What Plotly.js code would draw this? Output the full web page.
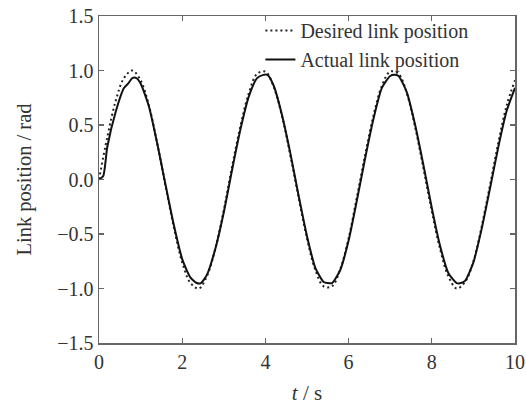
<!DOCTYPE html>
<html>
<head>
<meta charset="utf-8">
<script src="https://cdn.plot.ly/plotly-3.0.1.min.js"></script>
<style>html,body{margin:0;padding:0;background:#fff;}</style>
</head>
<body>
<div id="chart" style="width:526px;height:410px;"></div>
<script>
// Desired link position
var desiredT = [0,0.2,0.4,0.6,0.8,1.0,1.2,1.4,1.6,1.8,2.0,2.2,2.4,2.6,2.8,3.0,3.2,3.4,3.6,3.8,4.0,4.2,4.4,4.6,4.8,5.0,5.2,5.4,5.6,5.8,6.0,6.2,6.4,6.6,6.8,7.0,7.2,7.4,7.6,7.8,8.0,8.2,8.4,8.6,8.8,9.0,9.2,9.4,9.6,9.8,10.0];
var desiredY = [0,0.39,0.72,0.93,1.0,0.91,0.68,0.33,-0.06,-0.44,-0.76,-0.95,-1.0,-0.88,-0.63,-0.28,0.12,0.49,0.79,0.97,0.99,0.85,0.58,0.22,-0.17,-0.54,-0.83,-0.98,-0.98,-0.82,-0.54,-0.16,0.23,0.59,0.86,0.99,0.97,0.79,0.48,0.10,-0.29,-0.64,-0.89,-1.0,-0.94,-0.75,-0.43,-0.05,0.34,0.68,0.91];
// Actual link position
var actualT = [0,0.1,0.2,0.4,0.6,0.7,0.8,0.9,1.0,1.2,1.4,1.6,1.8,2.0,2.2,2.35,2.45,2.6,2.8,3.0,3.2,3.4,3.6,3.8,3.95,4.05,4.2,4.4,4.6,4.8,5.0,5.2,5.4,5.5,5.6,5.8,6.0,6.2,6.4,6.6,6.8,7.0,7.1,7.2,7.4,7.6,7.8,8.0,8.2,8.4,8.6,8.7,8.8,9.0,9.2,9.4,9.6,9.8,10.0];
var actualY = [0,0.03,0.3,0.62,0.84,0.88,0.93,0.93,0.88,0.67,0.33,-0.05,-0.42,-0.73,-0.9,-0.95,-0.95,-0.87,-0.63,-0.3,0.09,0.46,0.76,0.93,0.96,0.96,0.86,0.59,0.24,-0.15,-0.52,-0.81,-0.94,-0.95,-0.95,-0.83,-0.56,-0.19,0.2,0.56,0.84,0.95,0.96,0.95,0.8,0.5,0.13,-0.26,-0.61,-0.86,-0.95,-0.95,-0.93,-0.76,-0.45,-0.08,0.3,0.63,0.84];
var xTicks = [0,2,4,6,8,10];
var yTicks = [-1.5,-1.0,-0.5,0.0,0.5,1.0,1.5];
var yTickText = ['\u22121.5','\u22121.0','\u22120.5','0.0','0.5','1.0','1.5'];

var serif = '"Liberation Serif", "Times New Roman", serif';
var traces = [
  {x: desiredT, y: desiredY, name: 'Desired link position', mode: 'lines',
   line: {color: '#222', width: 2, dash: '2px,3px', shape: 'spline', smoothing: 1}},
  {x: actualT, y: actualY, name: 'Actual link position', mode: 'lines',
   line: {color: '#111', width: 2, shape: 'spline', smoothing: 0.6}}
];
var axisCommon = {
  showline: true, mirror: 'ticks', ticks: 'inside', ticklen: 5, tickwidth: 1.2,
  linecolor: '#666', tickcolor: '#666', linewidth: 1.5, showgrid: false, zeroline: false,
  tickfont: {family: serif, size: 20, color: '#333'}
};
var layout = {
  width: 526, height: 410,
  margin: {l: 99, r: 11, t: 16, b: 67},
  paper_bgcolor: '#fff', plot_bgcolor: '#fff',
  showlegend: true,
  legend: {x: 0.90, y: 1.015, xanchor: 'right', yanchor: 'top', bgcolor: 'rgba(0,0,0,0)',
           font: {family: serif, size: 20, color: '#333'}, tracegroupgap: 0},
  xaxis: Object.assign({}, axisCommon, {range: [0, 10], tickvals: xTicks, ticktext: xTicks.map(String),
    title: {text: '<i>t</i> / s', font: {family: serif, size: 21, color: '#333'}, standoff: 14}}),
  yaxis: Object.assign({}, axisCommon, {range: [-1.5, 1.5], tickvals: yTicks, ticktext: yTickText,
    title: {text: 'Link position / rad', font: {family: serif, size: 20.5, color: '#333'}, standoff: 20}})
};
Plotly.newPlot('chart', traces, layout, {displayModeBar: false, staticPlot: true});
</script>
</body>
</html>
